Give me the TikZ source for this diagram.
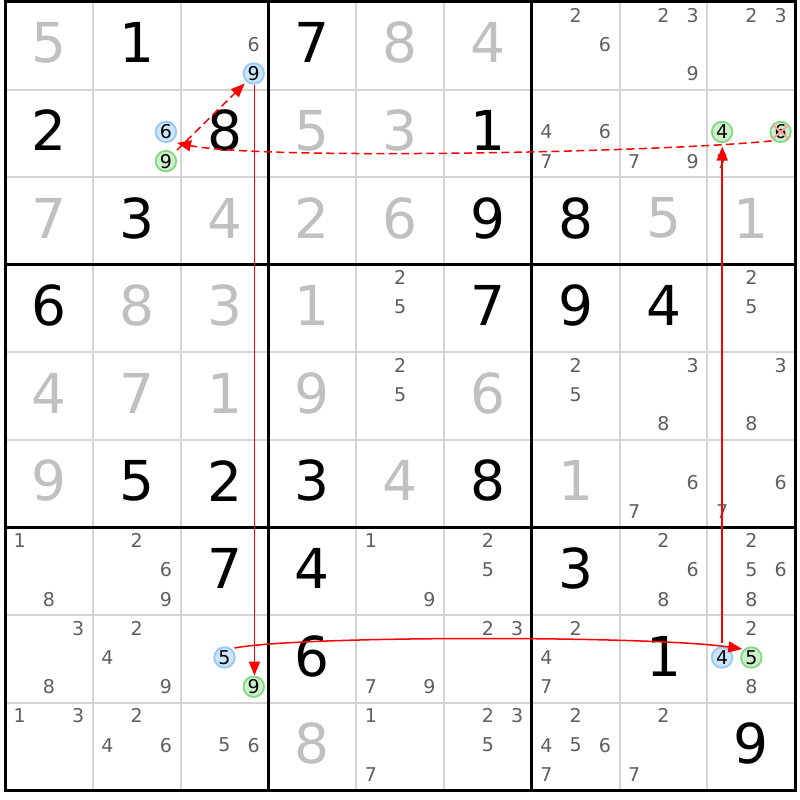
\documentclass[tikz,border=0pt]{standalone}
\usepackage{fontspec}
\setmainfont{DejaVu Sans}
\usetikzlibrary{arrows.meta,calc}
\definecolor{givgray}{RGB}{192,192,192}
\definecolor{candgray}{RGB}{95,95,95}
\definecolor{thingray}{RGB}{212,212,212}
\definecolor{bluefill}{RGB}{204,229,255}
\definecolor{blueline}{RGB}{150,200,250}
\definecolor{greenfill}{RGB}{204,240,204}
\definecolor{greenline}{RGB}{130,215,130}
\definecolor{linkred}{RGB}{255,0,0}
\definecolor{xpink}{RGB}{255,160,160}
\newcommand\bigfnt{\fontsize{55}{60}\selectfont}
\newcommand\candfnt{\fontsize{19}{22}\selectfont}
\newcommand\candxy[3]{%
  \pgfmathsetmacro\cpx{5+(#2-1)*87.8+29.27*(mod(#3-1,3)+0.5)}%
  \pgfmathsetmacro\cpy{2+(#1-1)*87.6+29.2*(floor((#3-1)/3)+0.5)-1.5}}
\begin{document}
\begin{tikzpicture}[x=1pt,y=-1pt,
  thinline/.style={draw=thingray,line width=2pt},
  thickline/.style={draw=black,line width=3pt},
  bigd/.style={inner sep=0pt,font=\bigfnt},
  cand/.style={inner sep=0pt,font=\candfnt,text=candgray},
  bluec/.style={circle,draw=blueline,fill=bluefill,line width=1.8pt,minimum size=20.5pt,inner sep=0pt,font=\candfnt,text=black},
  greenc/.style={circle,draw=greenline,fill=greenfill,line width=1.8pt,minimum size=20.5pt,inner sep=0pt,font=\candfnt,text=black},
  link/.style={draw=linkred,line width=1.5pt,-{Triangle[length=14pt,width=11pt]}},
  weak/.style={draw=linkred,line width=1.5pt,dash pattern=on 8pt off 4.5pt,-{Triangle[length=14pt,width=11pt]}},
  xmark/.style={draw=xpink,line width=2pt}]
\fill[white] (0,0) rectangle (800,800);
\useasboundingbox (0,0) rectangle (800,800);
% thin grid
\foreach \i in {1,2,4,5,7,8} {
  \draw[thinline] ({5+\i*87.8},2) -- ({5+\i*87.8},790.4);
  \draw[thinline] (5,{2+\i*87.6}) -- (795,{2+\i*87.6});
}
% thick grid
\foreach \i in {0,3,6,9} {
  \draw[thickline] ({5+\i*87.8},0.5) -- ({5+\i*87.8},791.9);
  \draw[thickline] (3.5,{2+\i*87.6}) -- (796.5,{2+\i*87.6});
}
% values
\foreach \ro/\co/\d/\col in {1/1/5/givgray, 1/2/1/black, 1/4/7/black, 1/5/8/givgray, 1/6/4/givgray,
  2/1/2/black, 2/3/8/black, 2/4/5/givgray, 2/5/3/givgray, 2/6/1/black,
  3/1/7/givgray, 3/2/3/black, 3/3/4/givgray, 3/4/2/givgray, 3/5/6/givgray, 3/6/9/black, 3/7/8/black, 3/8/5/givgray, 3/9/1/givgray,
  4/1/6/black, 4/2/8/givgray, 4/3/3/givgray, 4/4/1/givgray, 4/6/7/black, 4/7/9/black, 4/8/4/black,
  5/1/4/givgray, 5/2/7/givgray, 5/3/1/givgray, 5/4/9/givgray, 5/6/6/givgray,
  6/1/9/givgray, 6/2/5/black, 6/3/2/black, 6/4/3/black, 6/5/4/givgray, 6/6/8/black, 6/7/1/givgray,
  7/3/7/black, 7/4/4/black, 7/7/3/black, 8/4/6/black, 8/8/1/black, 9/4/8/givgray, 9/9/9/black}
  \node[bigd,text=\col] (v-\ro-\co) at ({5+(\co-0.5)*87.8},{2+(\ro-0.5)*87.6-3}) {\d};
% plain candidates
\foreach \ro/\co/\L in {1/3/{6}, 1/7/{2,6}, 1/8/{2,3,9}, 1/9/{2,3},
  2/7/{4,6,7}, 2/8/{7,9}, 2/9/{7},
  4/5/{2,5}, 4/9/{2,5}, 5/5/{2,5}, 5/7/{2,5}, 5/8/{3,8}, 5/9/{3,8}, 6/8/{6,7}, 6/9/{6,7},
  7/1/{1,8}, 7/2/{2,6,9}, 7/5/{1,9}, 7/6/{2,5}, 7/8/{2,6,8}, 7/9/{2,5,6,8},
  8/1/{3,8}, 8/2/{2,4,9}, 8/5/{7,9}, 8/6/{2,3}, 8/7/{2,4,7}, 8/9/{2,8},
  9/1/{1,3}, 9/2/{2,4,6}, 9/3/{5,6}, 9/5/{1,7}, 9/6/{2,3,5}, 9/7/{2,4,5,6,7}, 9/8/{2,7}} {
  \foreach \d in \L {
    \candxy{\ro}{\co}{\d}
    \node[cand] (k-\ro-\co-\d) at (\cpx,\cpy) {\d};
  }
}
% circled candidates
\foreach \ro/\co/\d/\s in {1/3/9/bluec, 2/2/6/bluec, 2/2/9/greenc, 2/9/4/greenc, 2/9/6/greenc,
  8/3/5/bluec, 8/3/9/greenc, 8/9/4/bluec, 8/9/5/greenc} {
  \candxy{\ro}{\co}{\d}
  \node[\s] (o-\ro-\co-\d) at (\cpx,\cpy) {\d};
}
% elimination mark
\draw[xmark] ($(o-2-9-6)+(-8,-7)$) -- ($(o-2-9-6)+(8,7)$);
\draw[xmark] ($(o-2-9-6)+(-8,7)$) -- ($(o-2-9-6)+(8,-7)$);
% links
\draw[link] ($(o-1-3-9.south)+(0.7,0)$) -- ($(o-8-3-9.north)+(0.7,0)$);
\draw[link] ($(o-8-3-5)+(10,-9.5)$) .. controls ($(o-8-3-5)+(75,-22)$) and ($(o-8-9-5)+(-100,-22)$) .. ($(o-8-9-5)+(-9,-8.5)$);
\draw[link] ($(o-8-9-4.north)+(0.2,-3)$) -- ($(o-2-9-4.south)+(0.2,3.5)$);
\draw[weak] ($(o-2-9-6)+(-9,9)$) .. controls ($(o-2-9-6)+(-130,21)$) and ($(o-2-2-6)+(94,28)$) .. ($(o-2-2-6)+(11,11)$);
\draw[weak] ($(o-2-2-9)+(11,-11)$) -- ($(o-1-3-9)+(-9,10)$);
\end{tikzpicture}
\end{document}
